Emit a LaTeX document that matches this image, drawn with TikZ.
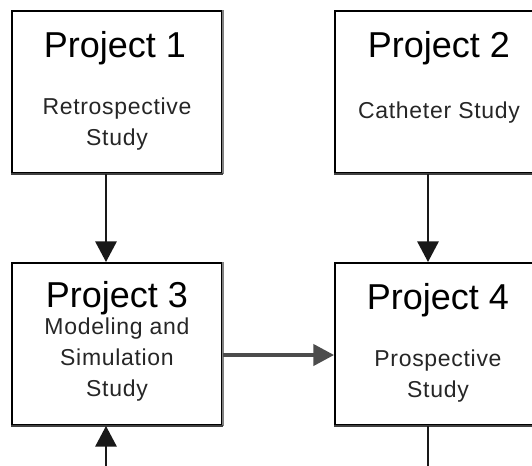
\documentclass[tikz,border=0pt]{standalone}
\usepackage{fontspec}
\setmainfont{Liberation Sans}
\usetikzlibrary{arrows.meta}
\newfontfamily\subfont[LetterSpace=3]{Liberation Sans}
\tikzset{
  box/.style={draw=black, line width=1.5pt, fill=white, minimum width=157.5pt, minimum height=121.5pt, inner sep=0pt},
  title/.style={anchor=base, inner sep=0pt, font=\fontsize{27}{32}\selectfont, text=black},
  sub/.style={anchor=base, inner sep=0pt, align=center, font=\subfont\fontsize{17.25}{22.9}\selectfont, text=black!85},
  conn/.style={line width=1.5pt, draw=black!90},
  hconn/.style={line width=2.4pt, draw=black!70},
  tip/.style={-{Triangle[length=15.5pt, width=16pt]}}
}
\begin{document}
\begin{tikzpicture}[x=0.75pt, y=-0.75pt]
\useasboundingbox (0,0) rectangle (532,465);
\clip (0,0) rectangle (532,465);
\fill[white] (0,0) rectangle (532,465);
% boxes
\node[box] (p1) at (117,92) {};
\node[box] (p2) at (440,92) {};
\node[box] (p3) at (117,344) {};
\node[box] (p4) at (440,344) {};
% shading on right/bottom edges
\foreach \b in {p1,p2,p3,p4}{
  \draw[line width=1.5pt, draw=black!50] (\b.north east) -- (\b.south east);
  \draw[line width=2pt, draw=black!75] (\b.south west) -- (\b.south east);
}
% texts
\node[title] (p1t) at (115,57) {Project 1};
\node[sub] (p1s) at (117,145) {Retrospective\\Study};
\node[title] (p2t) at (439,57) {Project 2};
\node[sub] (p2s) at (439,118) {Catheter Study};
\node[title] (p3t) at (117,307) {Project 3};
\node[sub] (p3s) at (117,396) {Modeling and\\Simulation\\Study};
\node[title] (p4t) at (438,309) {Project 4};
\node[sub] (p4s) at (438,397) {Prospective\\Study};
% connectors
\coordinate (b3) at (106,470);
\coordinate (b4) at (428,470);
\draw[conn, tip] ([xshift=-8.25pt]p1.south) -- ([xshift=-8.25pt]p3.north);
\draw[conn, tip] ([xshift=-9pt]p2.south) -- ([xshift=-9pt]p4.north);
\draw[hconn, tip] ([yshift=-8.25pt]p3.east) -- ([yshift=-8.25pt]p4.west);
\draw[conn, tip] (b3) -- (b3 |- p3.south);
\draw[conn] (p4.south -| b4) -- (b4);
\end{tikzpicture}
\end{document}
